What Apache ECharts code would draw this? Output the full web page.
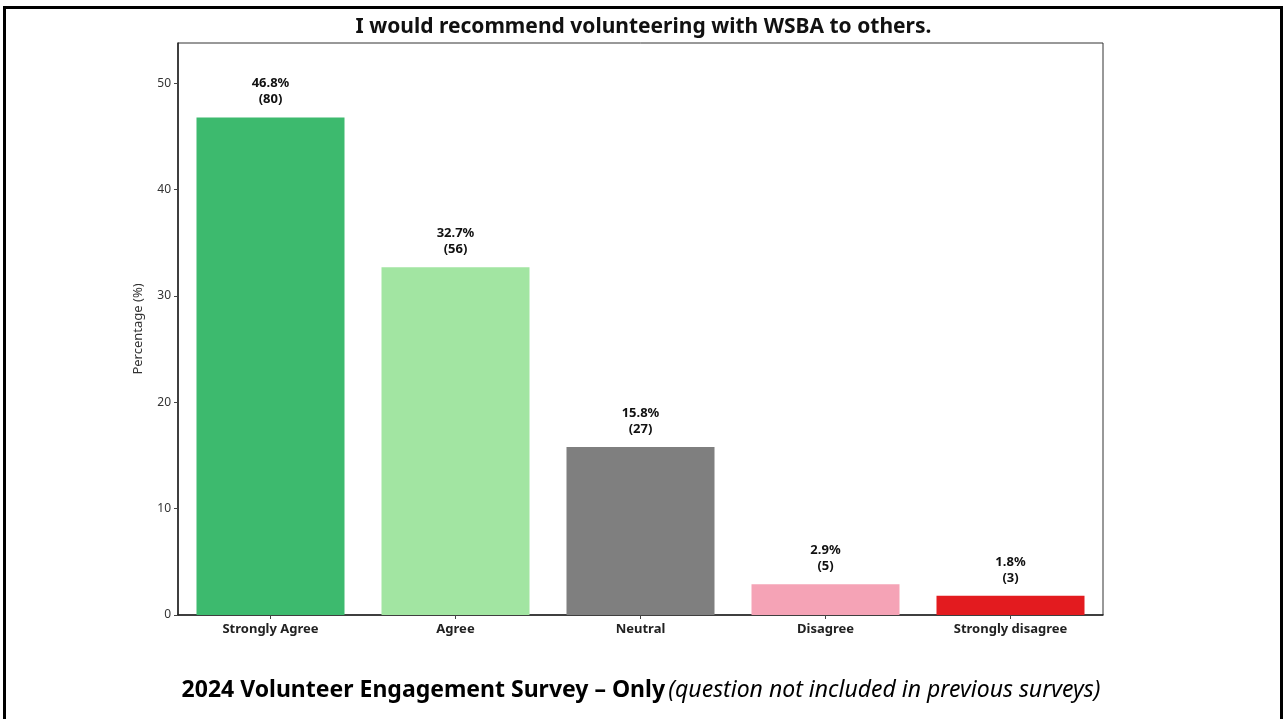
<!DOCTYPE html>
<html>
<head>
<meta charset="utf-8">
<script src="https://cdn.jsdelivr.net/npm/echarts@6/dist/echarts.min.js"></script>
<style>
html,body{margin:0;padding:0;background:#fff;}
#chart{width:1287px;height:719px;}
</style>
</head>
<body>
<div id="chart"></div>
<script>
const categories = ['Strongly Agree', 'Agree', 'Neutral', 'Disagree', 'Strongly disagree'];
const percentages = [46.8, 32.7, 15.8, 2.9, 1.8];
const counts = [80, 56, 27, 5, 3];
const barColors = ['#3dba6e', '#a2e5a2', '#7f7f7f', '#f5a3b6', '#e31b1f'];
const yTicks = [0, 10, 20, 30, 40, 50];

const chart = echarts.init(document.getElementById('chart'), null, {renderer: 'canvas'});
const font = '"Noto Sans", "Open Sans", sans-serif';

chart.setOption({
  backgroundColor: '#ffffff',
  animation: false,
  textStyle: {fontFamily: font},
  title: {
    text: 'I would recommend volunteering with WSBA to others.',
    left: 'center',
    top: 12,
    textStyle: {fontFamily: font, fontSize: 21, fontWeight: 'bold', color: '#111'}
  },
  grid: {
    left: 178, right: 184, top: 43, bottom: 104,
    show: true, borderColor: '#333', borderWidth: 1, backgroundColor: 'transparent'
  },
  xAxis: {
    type: 'category',
    data: categories,
    axisLine: {lineStyle: {color: '#222', width: 1.5}},
    axisTick: {show: true, alignWithLabel: true, length: 4, lineStyle: {color: '#444'}},
    axisLabel: {fontFamily: font, fontSize: 13, fontWeight: 'bold', color: '#222', margin: 8}
  },
  yAxis: {
    type: 'value',
    min: 0,
    max: 53.8,
    interval: 10,
    name: 'Percentage (%)',
    nameLocation: 'middle',
    nameGap: 33,
    nameTextStyle: {fontFamily: font, fontSize: 13, color: '#333'},
    axisLine: {show: true, lineStyle: {color: '#222', width: 1.5}},
    axisTick: {show: true, length: 4, lineStyle: {color: '#444'}},
    axisLabel: {
      fontFamily: font, fontSize: 12, color: '#333', margin: 7, showMaxLabel: false,
      formatter: function (v) { return yTicks.indexOf(v) >= 0 ? String(v) : ''; }
    },
    splitLine: {show: false}
  },
  series: [{
    type: 'bar',
    barWidth: '80%',
    data: percentages.map(function (v, i) {
      return {value: v, itemStyle: {color: barColors[i]}};
    }),
    label: {
      show: true,
      position: 'top',
      distance: 10,
      fontFamily: font,
      fontSize: 13,
      fontWeight: 'bold',
      color: '#111',
      lineHeight: 16,
      align: 'center',
      formatter: function (p) { return p.value.toFixed(1) + '%\n(' + counts[p.dataIndex] + ')'; }
    }
  }],
  graphic: [
    {
      type: 'rect',
      shape: {x: 4.5, y: 7.5, width: 1277, height: 720},
      style: {fill: 'none', stroke: '#000', lineWidth: 3},
      silent: true
    },
    {
      type: 'text',
      x: 641,
      y: 690,
      style: {
        text: '{b|2024 Volunteer Engagement Survey – Only} {i|(question not included in previous surveys)}',
        align: 'center',
        verticalAlign: 'middle',
        rich: {
          b: {fontFamily: font, fontSize: 23, fontWeight: 'bold', fill: '#000'},
          i: {fontFamily: font, fontSize: 23, fontStyle: 'italic', fill: '#000'}
        }
      }
    }
  ]
});
</script>
</body>
</html>
